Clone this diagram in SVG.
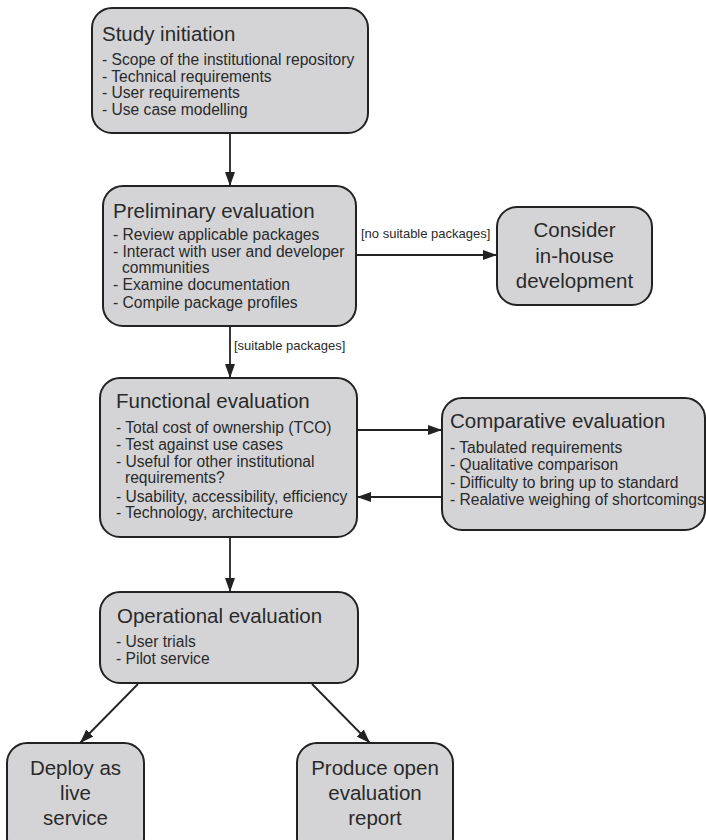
<svg xmlns="http://www.w3.org/2000/svg" width="706" height="840" viewBox="0 0 706 840">
<style>
.box{fill:#d4d4d6;stroke:#222;stroke-width:2}
text{font-family:"Liberation Sans",Arial,sans-serif;fill:#2a2a2a}
.t{font-size:20.5px}
.i{font-size:15.6px}
.c{font-size:20.5px;text-anchor:middle}
.l{font-size:13px}
.e{fill:none;stroke:#222;stroke-width:1.8}
</style>
<defs>
<marker id="ah" markerUnits="userSpaceOnUse" markerWidth="15" markerHeight="10" refX="14" refY="5" orient="auto">
<path d="M0,0 L14,5 L0,10 z" fill="#222"/>
</marker>
</defs>
<rect width="706" height="840" fill="#fff"/>
<g id="connectors">
<line class="e" x1="230" y1="133" x2="230" y2="186" marker-end="url(#ah)"/>
<line class="e" x1="356" y1="255" x2="497" y2="255" marker-end="url(#ah)"/>
<text class="l" x="361" y="238">[no suitable packages]</text>
<line class="e" x1="230" y1="326" x2="230" y2="378" marker-end="url(#ah)"/>
<text class="l" x="234" y="350">[suitable packages]</text>
<line class="e" x1="357" y1="430" x2="442" y2="430" marker-end="url(#ah)"/>
<line class="e" x1="442" y1="497" x2="357" y2="497" marker-end="url(#ah)"/>
<line class="e" x1="230" y1="537" x2="230" y2="592" marker-end="url(#ah)"/>
<line class="e" x1="138" y1="684" x2="80" y2="743" marker-end="url(#ah)"/>
<line class="e" x1="312" y1="684" x2="370" y2="743" marker-end="url(#ah)"/>
</g>
<g id="study">
<rect class="box" x="92" y="8" width="276" height="125" rx="20"/>
<text class="t" x="102" y="41">Study initiation</text>
<text class="i" x="102" y="65">- Scope of the institutional repository</text>
<text class="i" x="102" y="82">- Technical requirements</text>
<text class="i" x="102" y="98">- User requirements</text>
<text class="i" x="102" y="115">- Use case modelling</text>
</g>
<g id="preliminary">
<rect class="box" x="103" y="186" width="253" height="140" rx="20"/>
<text class="t" x="113" y="218">Preliminary evaluation</text>
<text class="i" x="113" y="240">- Review applicable packages</text>
<text class="i" x="113" y="257">- Interact with user and developer</text>
<text class="i" x="122" y="273">communities</text>
<text class="i" x="113" y="290">- Examine documentation</text>
<text class="i" x="113" y="308">- Compile package profiles</text>
</g>
<g id="inhouse">
<rect class="box" x="497" y="207" width="155" height="98" rx="20"/>
<text class="c" x="574.5" y="237">Consider</text>
<text class="c" x="574.5" y="263">in-house</text>
<text class="c" x="574.5" y="288">development</text>
</g>
<g id="functional">
<rect class="box" x="100" y="378" width="257" height="159" rx="20"/>
<text class="t" x="116" y="408">Functional evaluation</text>
<text class="i" x="116" y="433">- Total cost of ownership (TCO)</text>
<text class="i" x="116" y="450">- Test against use cases</text>
<text class="i" x="116" y="467">- Useful for other institutional</text>
<text class="i" x="125" y="483">requirements?</text>
<text class="i" x="116" y="502">- Usability, accessibility, efficiency</text>
<text class="i" x="116" y="518">- Technology, architecture</text>
</g>
<g id="comparative">
<rect class="box" x="442" y="398" width="263" height="132" rx="20"/>
<text class="t" x="450" y="428">Comparative evaluation</text>
<text class="i" x="450" y="453">- Tabulated requirements</text>
<text class="i" x="450" y="470">- Qualitative comparison</text>
<text class="i" x="450" y="488">- Difficulty to bring up to standard</text>
<text class="i" x="450" y="505">- Realative weighing of shortcomings</text>
</g>
<g id="operational">
<rect class="box" x="100" y="592" width="258" height="91" rx="20"/>
<text class="t" x="117" y="623">Operational evaluation</text>
<text class="i" x="116" y="647">- User trials</text>
<text class="i" x="116" y="664">- Pilot service</text>
</g>
<g id="deploy">
<rect class="box" x="7" y="743" width="137" height="115" rx="20"/>
<text class="c" x="75.5" y="775">Deploy as</text>
<text class="c" x="75.5" y="800">live</text>
<text class="c" x="75.5" y="825">service</text>
</g>
<g id="report">
<rect class="box" x="297" y="743" width="156" height="115" rx="20"/>
<text class="c" x="375" y="775">Produce open</text>
<text class="c" x="375" y="800">evaluation</text>
<text class="c" x="375" y="825">report</text>
</g>
</svg>
